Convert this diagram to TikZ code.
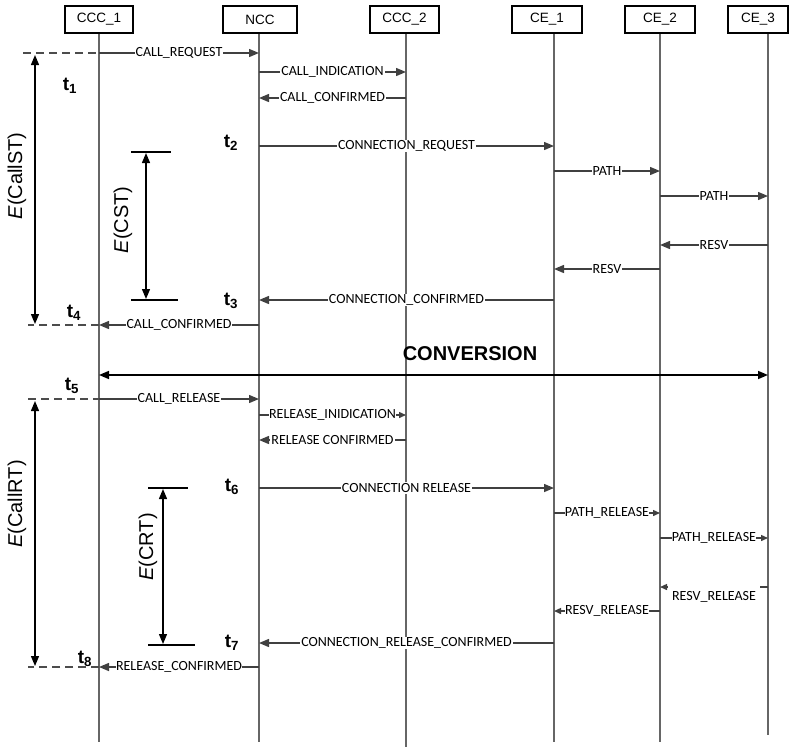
\documentclass[tikz,border=0pt]{standalone}
\usepackage{fontspec}
\setmainfont{Liberation Sans}
\newfontfamily\calib{Carlito}
\usetikzlibrary{arrows.meta}
\begin{document}
\begin{tikzpicture}[x=1pt,y=-1pt,
  hdr/.style={draw=black, line width=1.6pt, minimum height=27pt, inner sep=0pt, font=\fontsize{13.5}{15}\selectfont},
  life/.style={draw=black!60, line width=1.6pt},
  msg/.style={draw=black!75, line width=1.4pt, -{Triangle[length=10pt,width=8pt]}},
  smsg/.style={draw=black!75, line width=1.4pt, -{Triangle[length=7pt,width=6pt]}},
  lbl/.style={fill=white, inner xsep=1pt, inner ysep=1pt, font=\calib\fontsize{14}{16}\selectfont, text=black},
  dashline/.style={draw=black!70, line width=1.2pt, dash pattern=on 8pt off 5pt},
  span/.style={draw=black, line width=1.3pt, {Triangle[length=10pt,width=8pt]}-{Triangle[length=10pt,width=8pt]}},
  bar/.style={draw=black, line width=2pt},
  tlab/.style={font=\bfseries\fontsize{19}{21}\selectfont},
  elab/.style={rotate=90, font=\fontsize{20}{22}\selectfont}]
\useasboundingbox (0,0) rectangle (790,748);

% lifelines
\coordinate (l1t) at (99,33);  \coordinate (l1b) at (99,742);
\coordinate (l2t) at (259,33); \coordinate (l2b) at (259,742);
\coordinate (l3t) at (406,33); \coordinate (l3b) at (406,747);
\coordinate (l4t) at (554,33); \coordinate (l4b) at (554,742);
\coordinate (l5t) at (660,33); \coordinate (l5b) at (660,742);
\coordinate (l6t) at (768,33); \coordinate (l6b) at (768,735);
\foreach \i in {1,...,6} {\draw[life] (l\i t) -- (l\i b);}

% headers
\node[hdr, minimum width=68pt] (h1) at (99,19.5) {CCC\_1};
\node[hdr, minimum width=74pt] (h2) at (260,19.5) {NCC};
\node[hdr, minimum width=69pt] (h3) at (404.5,19.5) {CCC\_2};
\node[hdr, minimum width=70pt] (h4) at (547,19.5) {CE\_1};
\node[hdr, minimum width=70pt] (h5) at (660,19.5) {CE\_2};
\node[hdr, minimum width=60pt] (h6) at (758,19.5) {CE\_3};

% ---- call setup ----
\coordinate (d1) at (23,53);  \coordinate (a1) at (99,53);  \coordinate (b1) at (259,53);
\draw[dashline] (d1) -- (a1);
\draw[msg] (a1) -- node[lbl]{CALL\_REQUEST} (b1);

\coordinate (a2) at (259,72); \coordinate (b2) at (406,72);
\draw[msg] (a2) -- node[lbl]{CALL\_INDICATION} (b2);

\coordinate (a3) at (406,98); \coordinate (b3) at (259,98);
\draw[msg] (a3) -- node[lbl]{CALL\_CONFIRMED} (b3);

\coordinate (a4) at (259,146); \coordinate (b4) at (554,146);
\draw[msg] (a4) -- node[lbl]{CONNECTION\_REQUEST} (b4);

\coordinate (a5) at (554,171); \coordinate (b5) at (660,171);
\draw[msg] (a5) -- node[lbl]{PATH} (b5);

\coordinate (a6) at (660,196); \coordinate (b6) at (768,196);
\draw[msg] (a6) -- node[lbl]{PATH} (b6);

\coordinate (a7) at (768,245); \coordinate (b7) at (660,245);
\draw[msg] (a7) -- node[lbl]{RESV} (b7);

\coordinate (a8) at (660,269); \coordinate (b8) at (554,269);
\draw[msg] (a8) -- node[lbl]{RESV} (b8);

\coordinate (a9) at (554,300); \coordinate (b9) at (259,300);
\draw[msg] (a9) -- node[lbl]{CONNECTION\_CONFIRMED} (b9);

\coordinate (a10) at (259,325); \coordinate (b10) at (99,325); \coordinate (d10) at (28,325);
\draw[msg] (a10) -- node[lbl]{CALL\_CONFIRMED} (b10);
\draw[dashline] (b10) -- (d10);

% conversion
\coordinate (cv1) at (99,375); \coordinate (cv2) at (768,375);
\draw[span, line width=1.6pt] (cv1) -- (cv2);
\node[font=\bfseries\fontsize{20}{22}\selectfont] (conv) at (470,354) {CONVERSION};

% ---- call release ----
\coordinate (d11) at (28,399); \coordinate (a11) at (99,399); \coordinate (b11) at (259,399);
\draw[dashline] (d11) -- (a11);
\draw[msg] (a11) -- node[lbl]{CALL\_RELEASE} (b11);

\coordinate (a12) at (259,415); \coordinate (b12) at (406,415);
\draw[smsg] (a12) -- node[lbl, inner xsep=0pt]{RELEASE\_INIDICATION} (b12);

\coordinate (a13) at (406,440); \coordinate (b13) at (259,440);
\draw[msg] (a13) -- node[lbl]{RELEASE CONFIRMED} (b13);

\coordinate (a14) at (259,488); \coordinate (b14) at (554,488);
\draw[msg] (a14) -- node[lbl]{CONNECTION RELEASE} (b14);

\coordinate (a15) at (554,513); \coordinate (b15) at (660,513);
\draw[smsg] (a15) -- node[lbl, inner xsep=0pt]{PATH\_RELEASE} (b15);

\coordinate (a16) at (660,538); \coordinate (b16) at (768,538);
\draw[smsg] (a16) -- node[lbl, inner xsep=0pt]{PATH\_RELEASE} (b16);

\coordinate (a17) at (768,587); \coordinate (b17) at (660,587);
\draw[smsg] (a17) -- (b17);
\node[lbl, fill=none] (r17) at (714,597) {RESV\_RELEASE};
\fill[white] ([xshift=-3pt]r17.north west) rectangle ([xshift=3pt,yshift=12pt]r17.north east);

\coordinate (a18) at (660,611); \coordinate (b18) at (554,611);
\draw[smsg] (a18) -- node[lbl, inner xsep=0pt]{RESV\_RELEASE} (b18);

\coordinate (a19) at (554,643); \coordinate (b19) at (259,643);
\draw[msg] (a19) -- node[lbl]{CONNECTION\_RELEASE\_CONFIRMED} (b19);

\coordinate (a20) at (259,667); \coordinate (b20) at (99,667); \coordinate (d20) at (28,667);
\draw[msg] (a20) -- node[lbl, inner xsep=0pt]{RELEASE\_CONFIRMED} (b20);
\draw[dashline] (b20) -- (d20);

% ---- time labels ----
\node[tlab] (t1) at (70,86) {t\textsubscript{1}};
\node[tlab] (t2) at (231,143) {t\textsubscript{2}};
\node[tlab] (t3) at (231,301) {t\textsubscript{3}};
\node[tlab] (t4) at (74,313) {t\textsubscript{4}};
\node[tlab] (t5) at (72,386) {t\textsubscript{5}};
\node[tlab] (t6) at (232,487) {t\textsubscript{6}};
\node[tlab] (t7) at (232,643) {t\textsubscript{7}};
\node[tlab] (t8) at (85,659) {t\textsubscript{8}};

% ---- durations ----
\coordinate (e1a) at (35,55); \coordinate (e1b) at (35,324);
\draw[span] (e1a) -- (e1b);
\node[elab] (e1) at (17,176) {\textit{E}(CallST)};

\coordinate (c1l) at (131,152); \coordinate (c1r) at (171,152);
\coordinate (c2l) at (131,300); \coordinate (c2r) at (178,300);
\draw[bar] (c1l) -- (c1r);
\draw[bar] (c2l) -- (c2r);
\coordinate (e2a) at (146,153); \coordinate (e2b) at (146,299);
\draw[span] (e2a) -- (e2b);
\node[elab] (e2) at (123,220) {\textit{E}(CST)};

\coordinate (e3a) at (35,401); \coordinate (e3b) at (35,666);
\draw[span] (e3a) -- (e3b);
\node[elab] (e3) at (17,504) {\textit{E}(CallRT)};

\coordinate (c3l) at (148,488); \coordinate (c3r) at (188,488);
\coordinate (c4l) at (148,645); \coordinate (c4r) at (195,645);
\draw[bar] (c3l) -- (c3r);
\draw[bar] (c4l) -- (c4r);
\coordinate (e4a) at (163,489); \coordinate (e4b) at (163,644);
\draw[span] (e4a) -- (e4b);
\node[elab] (e4) at (148,547) {\textit{E}(CRT)};
\end{tikzpicture}
\end{document}
